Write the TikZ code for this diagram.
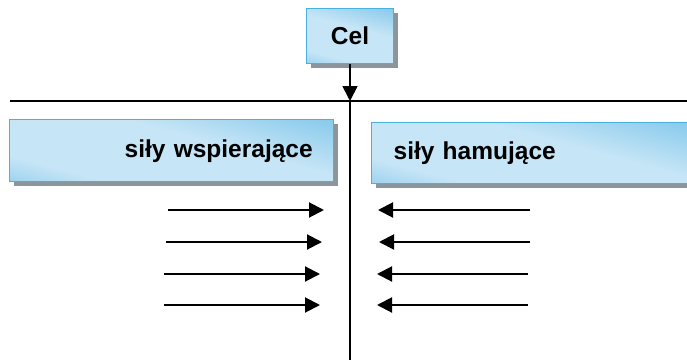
\documentclass[tikz,border=0pt]{standalone}
\usepackage{fontspec}
\setmainfont{Liberation Sans}
\usetikzlibrary{arrows.meta,shadows}
\definecolor{boxedge}{HTML}{4AB0E0}
\definecolor{boxlight}{HTML}{C6E5F6}
\definecolor{boxmid}{HTML}{52B3E3}
\definecolor{shadowgray}{HTML}{8A969C}
\pgfdeclarehorizontalshading{cardshade}{100bp}{
  color(0bp)=(boxmid); color(30bp)=(boxlight); color(58bp)=(boxlight); color(100bp)=(boxmid)}
\tikzset{
  card/.style={draw=boxedge, line width=1.4pt, shading=cardshade, shading angle=75,
    drop shadow={shadow xshift=4pt, shadow yshift=-4.5pt, fill=shadowgray, opacity=1},
    font=\bfseries\fontsize{24.5}{28}\selectfont, inner sep=0pt},
  axisline/.style={line width=1.8pt, black},
  force/.style={line width=2pt, -{Triangle[length=15pt,width=15pt]}},
}
\begin{document}
\begin{tikzpicture}[x=1pt,y=-1pt]
\useasboundingbox (0,0) rectangle (687,361);
% Cel box
\node[card, minimum width=87pt, minimum height=55pt, anchor=north] (cel) at (350,8) {Cel};
% left box
\node[card, minimum width=324pt, minimum height=62pt, anchor=north west, text width=282pt, align=right] (left) at (9,119) {siły wspierające};
% right box
\node[card, minimum width=318pt, minimum height=61pt, anchor=north west, text width=274pt, align=left] (right) at (371,122) {siły hamujące};
% axes
\coordinate (hl) at (10,101);
\coordinate (hr) at (687,101);
\coordinate (cross) at (350,101);
\coordinate (vb) at (350,360);
\draw[axisline] (hl) -- (hr);
\draw[axisline] (cross) -- (vb);
\draw[line width=1.8pt, -{Triangle[length=15pt,width=15pt]}] (cel.south) -- (cross);
% forces left
\coordinate (l1s) at (168,210); \coordinate (l1e) at (324,210);
\coordinate (l2s) at (166,242); \coordinate (l2e) at (322,242);
\coordinate (l3s) at (164,274); \coordinate (l3e) at (320,274);
\coordinate (l4s) at (164,305); \coordinate (l4e) at (320,305);
\draw[force] (l1s) -- (l1e);
\draw[force] (l2s) -- (l2e);
\draw[force] (l3s) -- (l3e);
\draw[force] (l4s) -- (l4e);
% forces right
\coordinate (r1s) at (530,210); \coordinate (r1e) at (378,210);
\coordinate (r2s) at (530,242); \coordinate (r2e) at (379,242);
\coordinate (r3s) at (528,274); \coordinate (r3e) at (377,274);
\coordinate (r4s) at (528,305); \coordinate (r4e) at (377,305);
\draw[force] (r1s) -- (r1e);
\draw[force] (r2s) -- (r2e);
\draw[force] (r3s) -- (r3e);
\draw[force] (r4s) -- (r4e);
\end{tikzpicture}
\end{document}
